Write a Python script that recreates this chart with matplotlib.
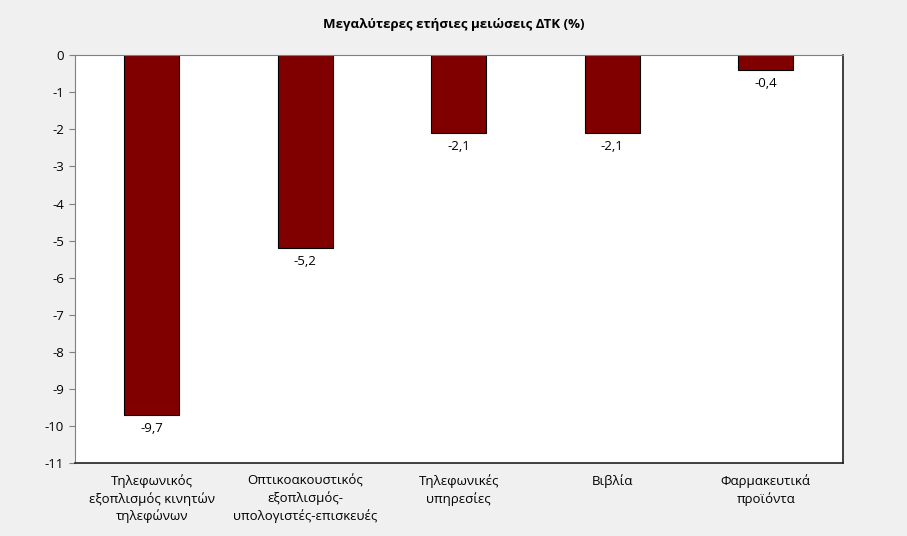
import matplotlib
matplotlib.use("Agg")
import matplotlib.pyplot as plt

categories = ["Τηλεφωνικός\nεξοπλισμός κινητών\nτηλεφώνων",
              "Οπτικοακουστικός\nεξοπλισμός-\nυπολογιστές-επισκευές",
              "Τηλεφωνικές\nυπηρεσίες",
              "Βιβλία",
              "Φαρμακευτικά\nπροϊόντα"]
values = [-9.7, -5.2, -2.1, -2.1, -0.4]
yticks = list(range(0, -12, -1))
title = "Μεγαλύτερες ετήσιες μειώσεις ΔΤΚ (%)"

plt.rcParams['font.family'] = ['Open Sans', 'DejaVu Sans']

fig = plt.figure(figsize=(9.07, 5.36), dpi=100, facecolor='#f0f0f0')
ax = fig.add_axes([0.0827, 0.136, 0.929 - 0.0827, 0.897 - 0.136])
ax.set_facecolor('white')
x = list(range(len(values)))
ax.bar(x, values, width=0.36, color='#800000', edgecolor='black', linewidth=0.8)
for xi, v in zip(x, values):
    ax.annotate(f"{v:.1f}".replace('.', ','), (xi, v), xytext=(0, -5),
                textcoords='offset points', ha='center', va='top', fontsize=9.5)
ax.set_xlim(-0.5, len(values) - 0.5)
ax.set_ylim(-11, 0)
ax.set_yticks(yticks)
ax.set_yticklabels([str(t) for t in yticks], fontsize=9.5)
ax.set_xticks(x)
ax.set_xticklabels(categories, fontsize=9.5, linespacing=1.35)
ax.tick_params(axis='x', length=0, pad=8)
ax.tick_params(axis='y', length=4, color='#808080', pad=4)
for s in ['top', 'left']:
    ax.spines[s].set_color('#808080')
    ax.spines[s].set_linewidth(0.8)
for s in ['bottom', 'right']:
    ax.spines[s].set_color('#202020')
    ax.spines[s].set_linewidth(1.2)
fig.text(0.5, 0.955, title, ha='center', va='center', fontsize=9.5, fontweight='bold')
fig.savefig('out.png', dpi=100, facecolor=fig.get_facecolor())
